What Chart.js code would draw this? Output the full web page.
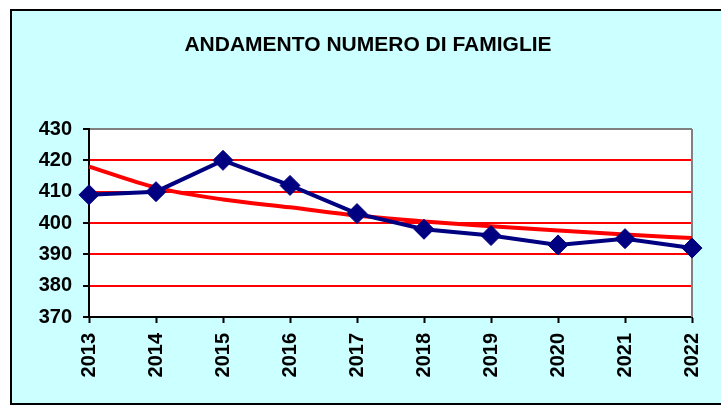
<!DOCTYPE html>
<html>
<head>
<meta charset="utf-8">
<script src="https://cdn.jsdelivr.net/npm/chart.js@4.4.1/dist/chart.umd.min.js"></script>
<style>
  html, body { margin: 0; padding: 0; background: #ffffff; }
</style>
</head>
<body>
<canvas id="myChart" width="721" height="406"></canvas>
<script>
const anni = ["2013", "2014", "2015", "2016", "2017", "2018", "2019", "2020", "2021", "2022"];
const famiglie = [409, 410, 420, 412, 403, 398, 396, 393, 395, 392];
// linea di tendenza (rossa)
const tendenza = [418, 411.3, 407.5, 405, 402.4, 400.5, 399, 397.6, 396.3, 395.2];
const titolo = "ANDAMENTO NUMERO DI FAMIGLIE";

const fontBase = "'Liberation Sans', Arial, sans-serif";

// cornice azzurra, titolo e sfondo bianco dell'area del grafico
const sfondo = {
  id: "sfondo",
  beforeDraw(chart) {
    const c = chart.ctx;
    const a = chart.chartArea;
    c.save();
    c.fillStyle = "#ccffff";
    c.fillRect(10, 10, 720, 395);
    c.strokeStyle = "#000000";
    c.lineWidth = 2;
    c.beginPath();
    c.moveTo(730, 10);
    c.lineTo(11, 10);
    c.lineTo(11, 404);
    c.lineTo(730, 404);
    c.stroke();

    c.fillStyle = "#000000";
    c.font = "bold 21px " + fontBase;
    c.textAlign = "center";
    c.textBaseline = "middle";
    c.fillText(titolo, 368, 45);

    c.fillStyle = "#ffffff";
    c.fillRect(a.left, a.top, a.right - a.left, a.bottom - a.top);
    c.restore();
  },
  beforeDatasetsDraw(chart) {
    const c = chart.ctx;
    const a = chart.chartArea;
    c.save();
    c.strokeStyle = "#808080";
    c.lineWidth = 2;
    c.beginPath();
    c.moveTo(a.right, a.top);
    c.lineTo(a.right, a.bottom);
    c.stroke();
    c.restore();
  }
};

const ctx = document.getElementById("myChart");

const data = {
  labels: anni,
  datasets: [
    {
      label: "Famiglie",
      data: famiglie,
      borderColor: "#000080",
      backgroundColor: "#000080",
      borderWidth: 4,
      pointStyle: "rectRot",
      pointRadius: 10,
      pointBorderWidth: 1,
      pointBackgroundColor: "#000080",
      pointBorderColor: "#000080",
      tension: 0,
      clip: false,
    },
    {
      label: "Tendenza",
      data: tendenza,
      borderColor: "#ff0000",
      borderWidth: 4,
      pointRadius: 0,
      cubicInterpolationMode: "monotone",
      fill: false,
    },
  ],
};

const config = {
  type: "line",
  data: data,
  plugins: [sfondo],
  options: {
    responsive: false,
    animation: false,
    layout: {
      padding: { left: 0, right: 29, top: 129, bottom: 0 },
    },
    plugins: {
      legend: { display: false },
      tooltip: { enabled: false },
    },
    scales: {
      x: {
        offset: false,
        afterFit(scale) {
          scale.height = 89;
          scale.paddingLeft = 0;
          scale.paddingRight = 0;
        },
        grid: {
          drawOnChartArea: false,
          tickLength: 6,
          tickColor: "#000000",
          tickWidth: 2,
        },
        border: { color: "#000000", width: 2 },
        ticks: {
          minRotation: 90,
          maxRotation: 90,
          padding: 10,
          color: "#000000",
          font: { family: fontBase, size: 20, weight: "bold" },
        },
      },
      y: {
        min: 370,
        max: 430,
        afterFit(scale) {
          scale.width = 89;
        },
        grid: {
          color(c) {
            if (c.tick.value === 430) return "#808080";
            if (c.tick.value === 370) return "#000000";
            return "#ff0000";
          },
          lineWidth: 2,
          tickLength: 6,
          tickColor: "#000000",
          tickWidth: 2,
        },
        border: { color: "#000000", width: 2 },
        ticks: {
          stepSize: 10,
          padding: 11,
          color: "#000000",
          font: { family: fontBase, size: 20, weight: "bold" },
        },
      },
    },
  },
};

new Chart(ctx, config);
</script>
</body>
</html>
